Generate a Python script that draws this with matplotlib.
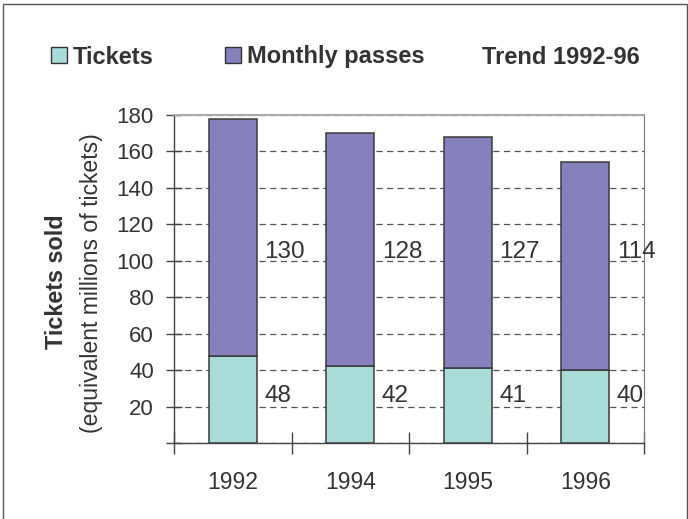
import matplotlib
matplotlib.use('Agg')
import matplotlib.pyplot as plt
from matplotlib.patches import Patch, Rectangle

years = ['1992', '1994', '1995', '1996']
tickets = [48, 42, 41, 40]
passes = [130, 128, 127, 114]
series_names = ['Tickets', 'Monthly passes', 'Trend 1992-96']
y_ticks = [0, 20, 40, 60, 80, 100, 120, 140, 160, 180]

c_tickets = '#a9dcd9'
c_passes = '#8680bc'
txt = '#333333'

plt.rcParams['font.family'] = ['Liberation Sans', 'DejaVu Sans']

fig = plt.figure(figsize=(6.88, 5.19), dpi=100)
ax = fig.add_axes([174/688, 1-443/519, 470/688, 328/519])

x = list(range(len(years)))
w = 0.41
ax.bar(x, tickets, w, color=c_tickets, edgecolor='#3a3a3a', lw=1.1, zorder=3)
ax.bar(x, passes, w, bottom=tickets, color=c_passes, edgecolor='#3a3a3a', lw=1.1, zorder=3)

# value labels sit beside the bars at a fixed height
for i in x:
    ax.annotate(str(tickets[i]), (i + w/2, 26), xytext=(5.5, 0), textcoords='offset points',
                ha='left', va='center', fontsize=17.5, color=txt)
    ax.annotate(str(passes[i]), (i + w/2, 105), xytext=(5.5, 0), textcoords='offset points',
                ha='left', va='center', fontsize=17.5, color=txt)

ax.set_xlim(-0.5, 3.5)
ax.set_ylim(0, 180)
ax.set_yticks(y_ticks)
ax.set_yticklabels([''] + [str(v) for v in y_ticks[1:]])
ax.set_xticks([-0.5, 0.5, 1.5, 2.5, 3.5])
ax.set_xticklabels([])
ax.set_xticks(x, minor=True)
ax.set_xticklabels(years, minor=True)

ax.tick_params(axis='y', direction='inout', length=11, width=1, color='#444',
               labelsize=16, labelcolor=txt, pad=9)
ax.tick_params(axis='x', which='major', direction='inout', length=16, width=1, color='#444')
ax.tick_params(axis='x', which='minor', length=0, labelsize=16.5, labelcolor=txt, pad=20)

ax.yaxis.grid(True, linestyle=(0, (5, 3.5)), color='#555555', lw=0.9, zorder=1)
ax.set_axisbelow(True)
for s in ['left', 'bottom']:
    ax.spines[s].set_color('#444444')
    ax.spines[s].set_linewidth(1)
ax.spines['right'].set_color('#777777')
ax.spines['right'].set_linewidth(0.8)
ax.spines['top'].set_color('#aaaaaa')
ax.spines['top'].set_linewidth(1.5)

fig.text(57/688, 1-282/519, 'Tickets sold', rotation=90, ha='center', va='center',
         fontsize=16.8, fontweight='bold', color=txt)
fig.text(92/688, 1-283/519, '(equivalent millions of tickets)', rotation=90,
         ha='center', va='center', fontsize=16.6, color=txt)

handles = [Patch(facecolor=c_tickets, edgecolor='#333333', label=series_names[0]),
           Patch(facecolor=c_passes, edgecolor='#333333', label=series_names[1])]
fig.legend(handles=handles, loc='center left', bbox_to_anchor=(51/688, 1-57/519),
           ncol=2, frameon=False, borderpad=0, borderaxespad=0,
           handlelength=0.68, handleheight=0.64, handletextpad=0.25, columnspacing=3.0,
           prop={'size': 17, 'weight': 'bold'}, labelcolor=txt)
fig.text(482/688, 1-57/519, series_names[2], ha='left', va='center',
         fontsize=17, fontweight='bold', color=txt)

fig.patches.append(Rectangle((3/688, -0.01), 684/688, 1 - 4/519 + 0.01,
                             transform=fig.transFigure, fill=False,
                             edgecolor='#555555', lw=1))

fig.savefig('out.png', dpi=100)
